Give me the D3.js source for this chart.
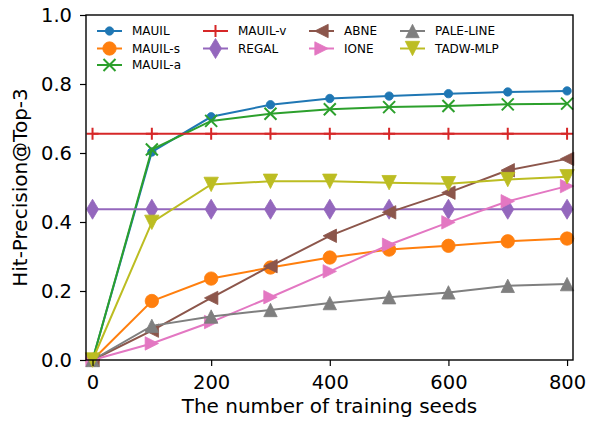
<!DOCTYPE html>
<html><head><meta charset="utf-8">
<script src="https://cdn.jsdelivr.net/npm/d3@7"></script>
<style>body{margin:0;background:#fff}svg{display:block}text{font-family:"DejaVu Sans",sans-serif}</style>
</head><body><div id="chart"></div>
<script>
const seeds = [0,100,200,300,400,500,600,700,800];
const seriesNames = ["MAUIL","MAUIL-s","MAUIL-a","MAUIL-v","REGAL","ABNE","IONE","PALE-LINE","TADW-MLP"];
const mauil    = [0,0.603,0.705,0.740,0.758,0.765,0.772,0.777,0.780];
const mauilS   = [0,0.171,0.236,0.268,0.297,0.320,0.331,0.344,0.352];
const mauilA   = [0,0.610,0.693,0.714,0.727,0.733,0.736,0.741,0.743];
const mauilV   = [0.656,0.656,0.656,0.656,0.656,0.656,0.656,0.656,0.656];
const regal    = [0.437,0.437,0.437,0.437,0.437,0.437,0.437,0.437,0.437];
const abne     = [0,0.085,0.180,0.272,0.360,0.428,0.485,0.550,0.583];
const ione     = [0,0.048,0.110,0.182,0.257,0.334,0.399,0.460,0.504];
const paleLine = [0,0.099,0.126,0.145,0.165,0.182,0.196,0.215,0.220];
const tadwMlp  = [0,0.399,0.509,0.518,0.518,0.514,0.511,0.523,0.531];
const yTicks = [0,0.2,0.4,0.6,0.8,1.0];
const xTicks = [0,200,400,600,800];

const values = [mauil,mauilS,mauilA,mauilV,regal,abne,ione,paleLine,tadwMlp];
const colors = ["#1f77b4","#ff7f0e","#2ca02c","#d62728","#9467bd","#8c564b","#e377c2","#7f7f7f","#bcbd22"];
const markers = ["circleS","circleL","x","plus","thinDiamond","triLeft","triRight","triUp","triDown"];

const W=589,H=423;
const svg=d3.select("#chart").append("svg").attr("width",W).attr("height",H);
const x=d3.scaleLinear().domain([-11,810]).range([86,573]);
const y=d3.scaleLinear().domain([0,1]).range([360,15]);

function markerPath(type){
  switch(type){
    case "circleS": return d3.symbol(d3.symbolCircle, Math.PI*4.2*4.2)();
    case "circleL": return d3.symbol(d3.symbolCircle, Math.PI*6.7*6.7)();
    case "x": return "M-6,-6L6,6M-6,6L6,-6";
    case "plus": return "M-6,0L6,0M0,-6L0,6";
    case "thinDiamond": return "M0,-10L6,0L0,10L-6,0Z";
    case "triUp": return "M0,-6.7L6.7,6.7L-6.7,6.7Z";
    case "triDown": return "M0,7.2L7.2,-7.2L-7.2,-7.2Z";
    case "triLeft": return "M-6.7,0L6.7,-6.7L6.7,6.7Z";
    case "triRight": return "M6.7,0L-6.7,-6.7L-6.7,6.7Z";
  }
}
function drawMarker(g,type,color){
  const stroke = (type==="x"||type==="plus");
  g.append("path").attr("d",markerPath(type))
   .attr("fill",stroke?"none":color)
   .attr("stroke",color).attr("stroke-width",stroke?2:0.8);
}

const line=d3.line().x((d,i)=>x(seeds[i])).y(d=>y(d));
const plot=svg.append("g");
values.forEach((vals,k)=>{
  const g=plot.append("g");
  g.append("path").attr("d",line(vals)).attr("fill","none").attr("stroke",colors[k]).attr("stroke-width",2);
  vals.forEach((v,i)=>{
    const m=g.append("g").attr("transform",`translate(${x(seeds[i])},${y(v)})`);
    drawMarker(m,markers[k],colors[k]);
  });
});

// axes
const xAxis=d3.axisBottom(x).tickValues(xTicks).tickSize(6).tickPadding(5).tickFormat(d3.format("d"));
const yAxis=d3.axisLeft(y).tickValues(yTicks).tickSize(6).tickPadding(8).tickFormat(d3.format(".1f"));
const gx=svg.append("g").attr("transform","translate(0,360)").call(xAxis);
const gy=svg.append("g").attr("transform","translate(86,0)").call(yAxis);
[gx,gy].forEach(g=>{
  g.select(".domain").remove();
  g.selectAll("line").attr("stroke","#000").attr("stroke-width",1.2);
  g.selectAll("text").attr("font-size",19.5).attr("fill","#000").attr("font-family","DejaVu Sans");
});
gx.selectAll("text").attr("y",0).attr("dy",null).attr("transform","translate(0,29)");
// frame
svg.append("rect").attr("x",86).attr("y",15).attr("width",487).attr("height",345)
  .attr("fill","none").attr("stroke","#000").attr("stroke-width",1.4);

svg.append("text").attr("x",(86+573)/2).attr("y",413).attr("text-anchor","middle")
  .attr("font-size",20).text("The number of training seeds");
svg.append("text").attr("transform",`translate(27,${(15+360)/2}) rotate(-90)`).attr("text-anchor","middle")
  .attr("font-size",20).text("Hit-Precision@Top-3");

// legend
const legCols=[[0,1,2],[3,4],[5,6],[7,8]];
const colX=[97,203,309,400];
const rowY=[31,48.5,65];
legCols.forEach((col,c)=>{
  col.forEach((k,r)=>{
    const lg=svg.append("g").attr("transform",`translate(${colX[c]},${rowY[r]})`);
    lg.append("line").attr("x1",0).attr("x2",25).attr("y1",0).attr("y2",0).attr("stroke",colors[k]).attr("stroke-width",2);
    const m=lg.append("g").attr("transform","translate(12.5,0)");
    drawMarker(m,markers[k],colors[k]);
    lg.append("text").attr("x",35).attr("y",0).attr("dy","0.36em").attr("font-size",12).text(seriesNames[k]);
  });
});
</script></body></html>
